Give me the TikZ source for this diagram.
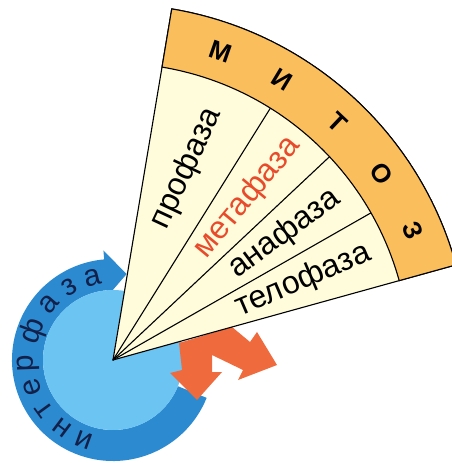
\documentclass[tikz,border=0pt]{standalone}
\usepackage{fontspec}
\setmainfont{Liberation Sans}
\definecolor{band}{HTML}{FBBE5C}
\definecolor{cream}{HTML}{FEFCDA}
\definecolor{lblue}{HTML}{6CC4F2}
\definecolor{dblue}{HTML}{2C8AD0}
\definecolor{arr}{HTML}{EF6A3C}
\definecolor{redtxt}{HTML}{E84B2C}
\definecolor{navy}{HTML}{12204A}
\begin{document}
\begin{tikzpicture}[x=1pt,y=1pt,
 phase/.style={font=\fontsize{32}{32}\selectfont, inner sep=0pt, anchor=center},
 mletter/.style={font=\bfseries\fontsize{26}{26}\selectfont, inner sep=0pt},
 iletter/.style={font=\fontsize{30}{30}\selectfont, inner sep=0pt, text=navy},
 edge/.style={draw=black, line width=1.1pt}]
\useasboundingbox (-113,-103) rectangle (338,360);
\coordinate (O) at (0,0);
% interphase ring with arrow head
\fill[dblue] (95:101) -- (95:110) -- (81:87) -- (95:64) -- (95:70)
  arc[start angle=95,end angle=338,radius=70] -- (338:101)
  arc[start angle=338,end angle=95,radius=101] -- cycle;
\fill[lblue] (O) circle[radius=70];
% orange double arrow
\fill[arr] (66,17) -- (119,33) -- (137,18) -- (144,28) -- (164,-5) -- (125,-20)
  -- (130,-10) -- (99,5) -- (99,-12) -- (109,-12) -- (84,-40) -- (57,-13)
  -- (69,-10) -- cycle;
% fan
\filldraw[fill=cream, edge] (O) -- (80.5:356) arc[start angle=80.5,end angle=15.5,radius=356] -- cycle;
\filldraw[fill=band, edge] (80.5:297) -- (80.5:356)
  arc[start angle=80.5,end angle=15.5,radius=356] -- (15.5:297)
  arc[start angle=15.5,end angle=80.5,radius=297] -- cycle;
\draw[edge] (O) -- (58:297);
\draw[edge] (O) -- (43.2:297);
\draw[edge] (O) -- (29.7:297);
% phase labels
\node[phase, rotate=65] (pro) at (69:205) {профаза};
\node[phase, rotate=50.3, text=redtxt] (meta) at (50.4:211) {метафаза};
\node[phase, rotate=36.4] (ana) at (36.3:213) {анафаза};
\node[phase, rotate=23.2] (telo) at (22.7:206) {телофаза};
% mitosis letters
\foreach \a/\l [count=\i] in {70.8/М,58.9/И,46.6/Т,34.7/О,23.4/З}
  \node[mletter, rotate=\a-90] (mit\i) at (\a:327) {\l};
% interphase letters
\foreach \a/\l [count=\i] in {250/и,233/н,216/т,199/е,182/р,160/ф,139/а,121/з,104/а}
  \node[iletter, rotate=\a-90] (int\i) at (\a:85) {\l};
\end{tikzpicture}
\end{document}
